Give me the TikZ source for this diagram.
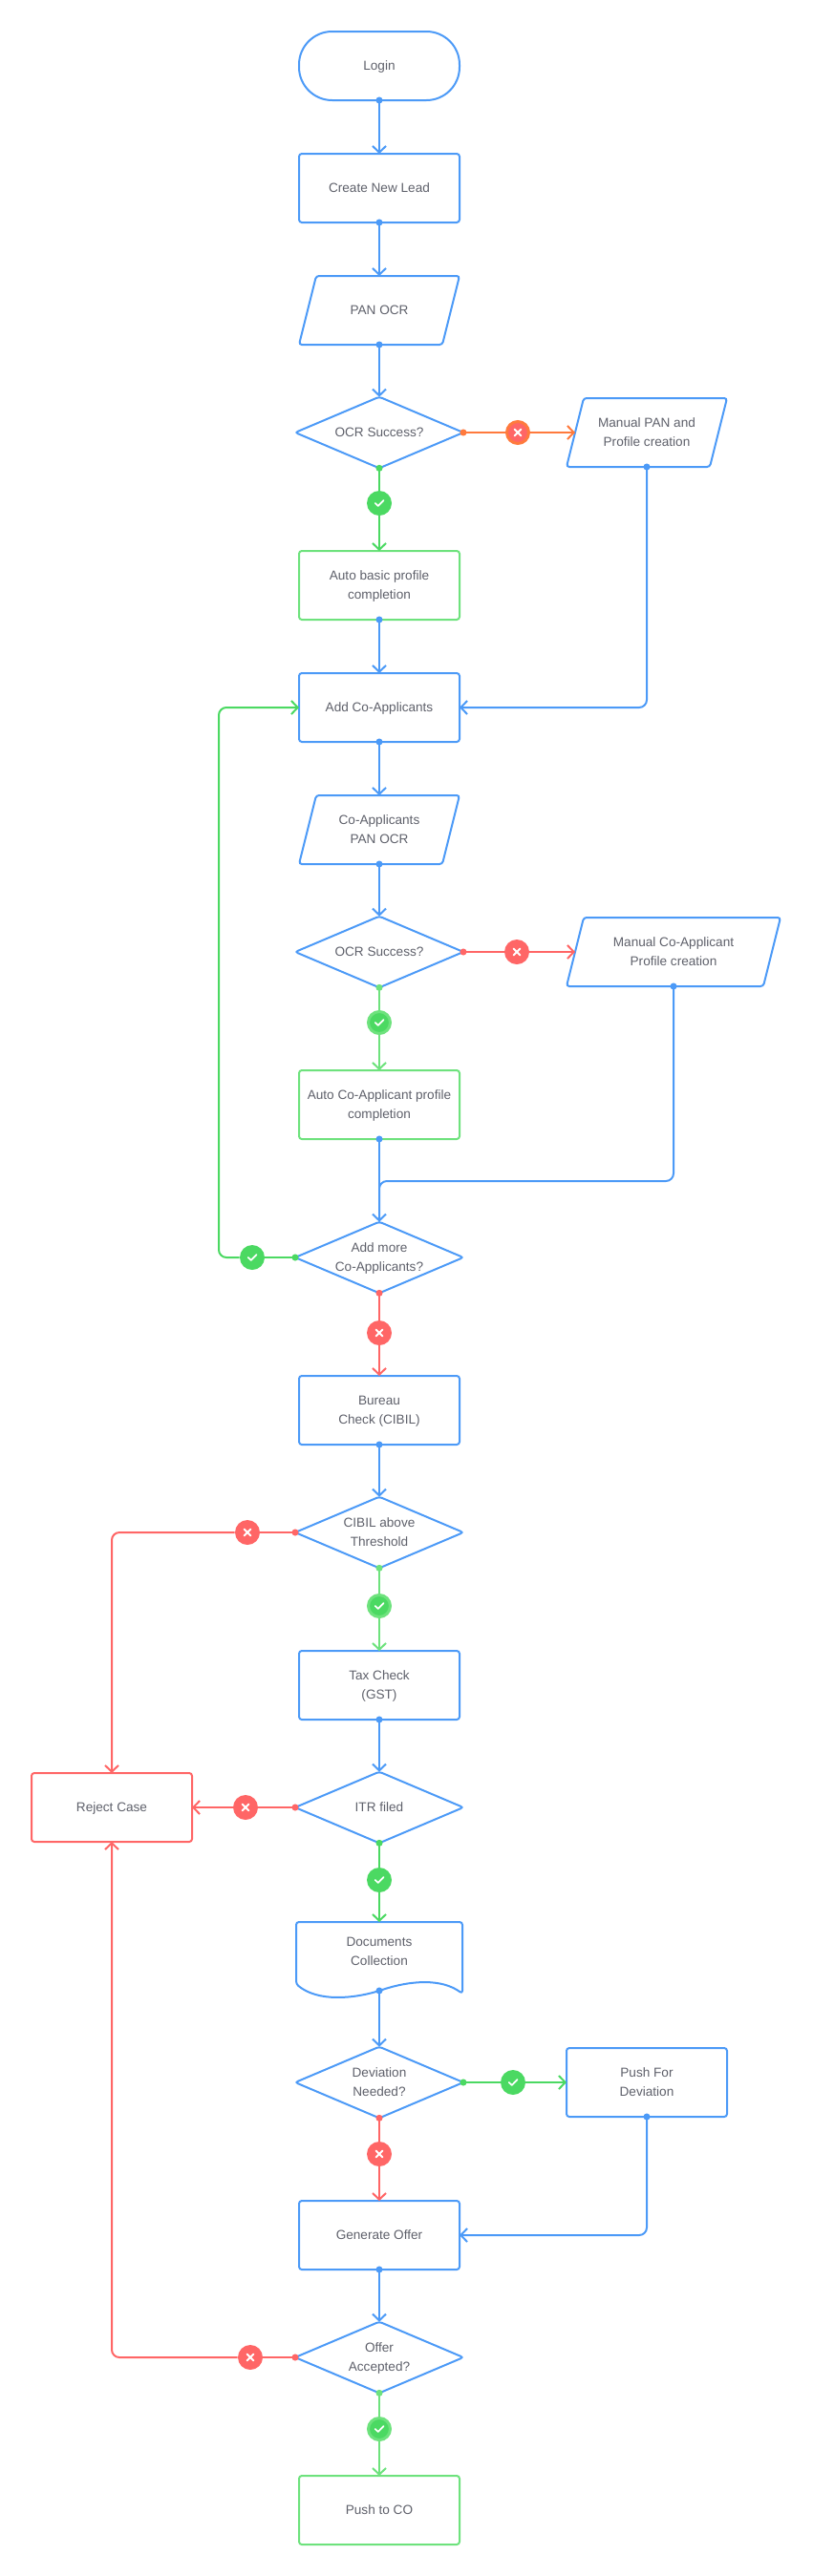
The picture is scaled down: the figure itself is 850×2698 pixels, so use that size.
\documentclass[tikz,border=0pt]{standalone}
\usepackage{fontspec}
\setmainfont{Liberation Sans}
\usetikzlibrary{shapes.geometric,arrows.meta}
\definecolor{FlowBlue}{RGB}{76, 154, 247}
\definecolor{FlowGreen}{RGB}{75, 217, 98}
\definecolor{FlowPale}{RGB}{110, 226, 125}
\definecolor{FlowRed}{RGB}{255, 102, 102}
\definecolor{FlowOrange}{RGB}{255, 122, 61}
\definecolor{FlowText}{RGB}{94, 96, 106}
\newcommand{\ioframe}[1]{\draw[draw=FlowBlue,line width=1.5pt,rounded corners=2.2pt] ([xshift=-6.75pt]#1.south west) -- ([xshift=6.75pt]#1.north west) -- ([xshift=6.75pt]#1.north east) -- ([xshift=-6.75pt]#1.south east) -- cycle;}
\tikzset{
	label text/.style={text=FlowText,align=center,font=\fontsize{10.2}{15}\selectfont,inner sep=0pt,outer sep=0pt,text depth=0pt},
	base/.style={label text,draw=FlowBlue,line width=1.5pt},
	procbox/.style={base,rectangle,rounded corners=2.2pt,minimum width=126pt,minimum height=54pt},
	startbox/.style={base,rectangle,rounded corners=26pt,minimum width=126pt,minimum height=54pt},
	iobox/.style={label text,minimum width=112.5pt,minimum height=54pt},
	decbox/.style={base,diamond,aspect=2.3,rounded corners=2.2pt,minimum width=132pt,minimum height=56pt},
	plainbox/.style={label text,minimum width=126pt},
	linkout/.style={line width=1.5pt,{Circle[length=5.2pt,sep=-2.6pt]}-{Straight Barb[length=5pt,width=10.5pt,line width=1.5pt]}},
	startdot/.style={line width=1.5pt,{Circle[length=5.2pt,sep=-2.6pt]}-},
	endbarb/.style={line width=1.5pt,-{Straight Barb[length=5pt,width=10.5pt,line width=1.5pt]}},
	yesmark/.style={circle,fill=FlowGreen,minimum size=19.5pt,inner sep=0pt,path picture={
		\draw[white,line width=1.3pt,line cap=round,line join=round] ([shift={(-3.2pt,0pt)}]path picture bounding box.center) -- ([shift={(-0.9pt,-2.2pt)}]path picture bounding box.center) -- ([shift={(3.4pt,2.2pt)}]path picture bounding box.center);}},
	nomark/.style={circle,fill=FlowRed,minimum size=19.5pt,inner sep=0pt,path picture={
		\draw[white,line width=1.5pt,line cap=round] ([shift={(-2.5pt,-2.5pt)}]path picture bounding box.center) -- ([shift={(2.5pt,2.5pt)}]path picture bounding box.center);
		\draw[white,line width=1.5pt,line cap=round] ([shift={(-2.5pt,2.5pt)}]path picture bounding box.center) -- ([shift={(2.5pt,-2.5pt)}]path picture bounding box.center);}},
	yesring/.style={yesmark,draw=FlowPale,line width=2.25pt,minimum size=17.25pt},
	noring/.style={nomark,draw=FlowOrange,line width=2.25pt,minimum size=17.25pt},
}
\begin{document}
\begin{tikzpicture}[x=0.75pt,y=-0.75pt]
	\useasboundingbox (0,0) rectangle (850,2698);
	\node[startbox] (login) at (397,69) {Login};
	\node[procbox] (lead) at (397,197) {Create New Lead};
	\node[iobox] (panocr) at (397,325) {PAN OCR};
	\ioframe{panocr}
	\node[decbox] (ocrone) at (397,453) {OCR Success?};
	\node[iobox] (manualpan) at (677,453) {Manual PAN and\\Profile creation};
	\ioframe{manualpan}
	\node[procbox,draw=FlowPale] (autobasic) at (397,613) {Auto basic profile\\completion};
	\node[procbox] (addco) at (397,741) {Add Co-Applicants};
	\node[iobox] (copan) at (397,869) {Co-Applicants\\PAN OCR};
	\ioframe{copan}
	\node[decbox] (ocrtwo) at (397,997) {OCR Success?};
	\node[iobox,minimum width=154.5pt] (manualco) at (705,997) {Manual Co-Applicant\\Profile creation};
	\ioframe{manualco}
	\node[procbox,draw=FlowPale] (autoco) at (397,1157) {Auto Co-Applicant profile\\completion};
	\node[decbox] (addmore) at (397,1317) {Add more\\Co-Applicants?};
	\node[procbox] (bureau) at (397,1477) {Bureau\\Check (CIBIL)};
	\node[decbox] (cibil) at (397,1605) {CIBIL above\\Threshold};
	\node[procbox] (tax) at (397,1765) {Tax Check\\(GST)};
	\node[decbox] (itr) at (397,1893) {ITR filed};
	\node[procbox,draw=FlowRed] (reject) at (117,1893) {Reject Case};
	\node[plainbox] (docs) at (397,2044) {Documents\\Collection};
	\node[decbox] (deviation) at (397,2181) {Deviation\\Needed?};
	\node[procbox] (pushdev) at (677,2181) {Push For\\Deviation};
	\node[procbox] (offer) at (397,2341) {Generate Offer};
	\node[decbox] (accepted) at (397,2469) {Offer\\Accepted?};
	\node[procbox,draw=FlowPale] (pushco) at (397,2629) {Push to CO};
	\draw[draw=FlowBlue,line width=1.5pt,line join=round,rounded corners=2.2pt] (310,2013) -- (484,2013) -- (484,2088) .. controls (462,2072) and (430,2074) .. (397,2085) .. controls (370,2093) and (333,2097) .. (310,2078) -- cycle;
	\coordinate (docstop) at (397,2013);
	\coordinate (docsbot) at (397,2085);
	\coordinate (addmoretop) at (397,1237);
	\node[noring] (noone) at (542,453) {};
	\node[yesmark] (yesone) at (397,527) {};
	\node[nomark] (notwo) at (541,997) {};
	\node[yesring] (yestwo) at (397,1071) {};
	\node[yesmark] (yesmore) at (264,1317) {};
	\node[nomark] (nomore) at (397,1396) {};
	\node[nomark] (nocibil) at (259,1605) {};
	\node[yesring] (yescibil) at (397,1682) {};
	\node[nomark] (noitr) at (257,1893) {};
	\node[yesmark] (yesitr) at (397,1969) {};
	\node[yesmark] (yesdev) at (537,2181) {};
	\node[nomark] (nodev) at (397,2256) {};
	\node[nomark] (nooffer) at (262,2469) {};
	\node[yesring] (yesoffer) at (397,2544) {};
	\draw[linkout,draw=FlowBlue] (login.south) -- (lead.north);
	\draw[linkout,draw=FlowBlue] (lead.south) -- (panocr.north);
	\draw[linkout,draw=FlowBlue] (panocr.south) -- (ocrone.north);
	\draw[startdot,draw=FlowOrange] (ocrone.east) -- (noone);
	\draw[endbarb,draw=FlowOrange] (noone) -- (manualpan.west);
	\draw[startdot,draw=FlowGreen] (ocrone.south) -- (yesone);
	\draw[endbarb,draw=FlowGreen] (yesone) -- (autobasic.north);
	\draw[linkout,draw=FlowBlue] (autobasic.south) -- (addco.north);
	\draw[linkout,draw=FlowBlue,rounded corners=6pt] (manualpan.south) |- (addco.east);
	\draw[linkout,draw=FlowBlue] (addco.south) -- (copan.north);
	\draw[linkout,draw=FlowBlue] (copan.south) -- (ocrtwo.north);
	\draw[startdot,draw=FlowRed] (ocrtwo.east) -- (notwo);
	\draw[endbarb,draw=FlowRed] (notwo) -- (manualco.west);
	\draw[startdot,draw=FlowPale] (ocrtwo.south) -- (yestwo);
	\draw[endbarb,draw=FlowPale] (yestwo) -- (autoco.north);
	\draw[linkout,draw=FlowBlue] (autoco.south) -- (addmore.north);
	\draw[startdot,draw=FlowBlue,rounded corners=6pt] (manualco.south) |- (addmoretop) -- (addmore.north);
	\draw[startdot,draw=FlowGreen] (addmore.west) -- (yesmore);
	\draw[endbarb,draw=FlowGreen,rounded corners=6pt] (yesmore) -- (229,1317) |- (addco.west);
	\draw[startdot,draw=FlowRed] (addmore.south) -- (nomore);
	\draw[endbarb,draw=FlowRed] (nomore) -- (bureau.north);
	\draw[linkout,draw=FlowBlue] (bureau.south) -- (cibil.north);
	\draw[startdot,draw=FlowRed] (cibil.west) -- (nocibil);
	\draw[endbarb,draw=FlowRed,rounded corners=6pt] (nocibil) -| (reject.north);
	\draw[startdot,draw=FlowPale] (cibil.south) -- (yescibil);
	\draw[endbarb,draw=FlowPale] (yescibil) -- (tax.north);
	\draw[linkout,draw=FlowBlue] (tax.south) -- (itr.north);
	\draw[startdot,draw=FlowRed] (itr.west) -- (noitr);
	\draw[endbarb,draw=FlowRed] (noitr) -- (reject.east);
	\draw[startdot,draw=FlowGreen] (itr.south) -- (yesitr);
	\draw[endbarb,draw=FlowGreen] (yesitr) -- (docstop);
	\draw[linkout,draw=FlowBlue] (docsbot) -- (deviation.north);
	\draw[startdot,draw=FlowGreen] (deviation.east) -- (yesdev);
	\draw[endbarb,draw=FlowGreen] (yesdev) -- (pushdev.west);
	\draw[startdot,draw=FlowRed] (deviation.south) -- (nodev);
	\draw[endbarb,draw=FlowRed] (nodev) -- (offer.north);
	\draw[linkout,draw=FlowBlue,rounded corners=6pt] (pushdev.south) |- (offer.east);
	\draw[linkout,draw=FlowBlue] (offer.south) -- (accepted.north);
	\draw[startdot,draw=FlowRed] (accepted.west) -- (nooffer);
	\draw[endbarb,draw=FlowRed,rounded corners=6pt] (nooffer) -| (reject.south);
	\draw[startdot,draw=FlowPale] (accepted.south) -- (yesoffer);
	\draw[endbarb,draw=FlowPale] (yesoffer) -- (pushco.north);
\end{tikzpicture}
\end{document}
